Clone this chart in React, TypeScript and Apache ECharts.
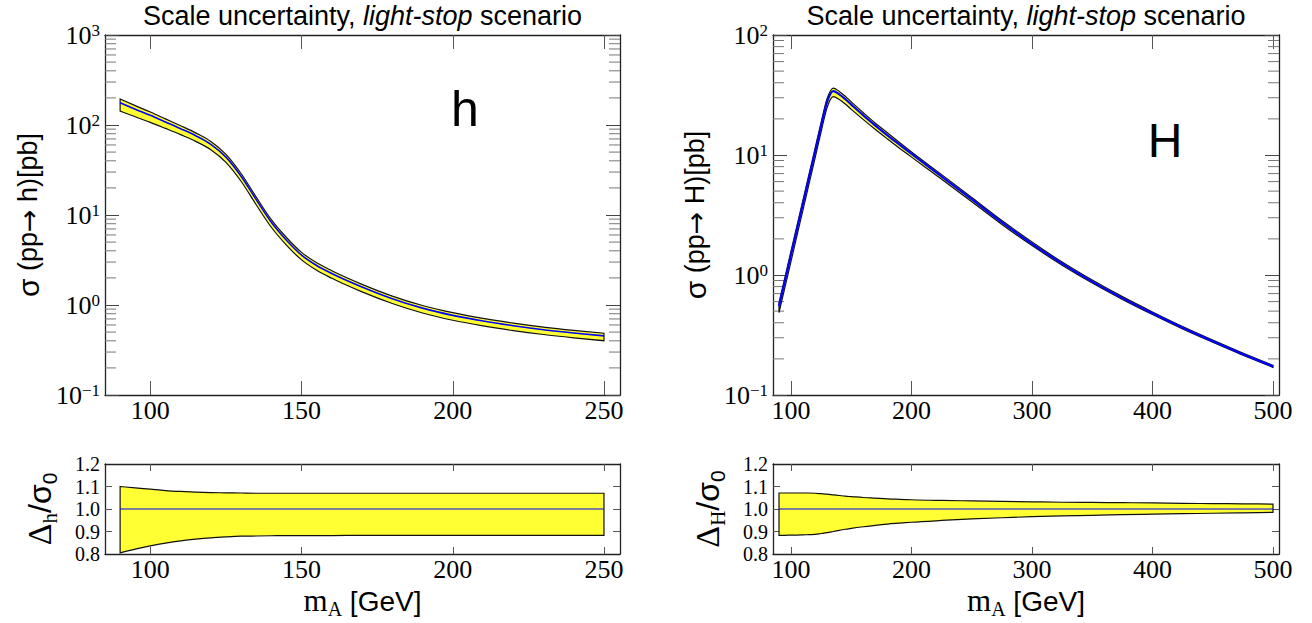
import React, { useEffect, useRef } from "react";
import * as echarts from "echarts";

// ---------- data ----------
const hMass = [90, 95, 100, 105, 110, 115, 120, 125, 130, 135, 140, 145, 150, 155, 160, 170, 180, 190, 200, 210, 220, 230, 240, 250];
const hCentral = [177, 150, 128, 108, 91, 76, 61, 44, 27, 14.8, 8.3, 5.25, 3.59, 2.75, 2.24, 1.585, 1.175, 0.923, 0.767, 0.664, 0.589, 0.532, 0.489, 0.454];
const hUpper = [194.7, 164.1, 139.3, 116.9, 98.1, 81.7, 65.5, 47.2, 28.9, 15.84, 8.88, 5.62, 3.84, 2.94, 2.4, 1.696, 1.257, 0.988, 0.821, 0.71, 0.63, 0.569, 0.523, 0.486];
const hLower = [142.5, 123.3, 107.0, 91.6, 78.1, 65.8, 53.2, 38.5, 23.7, 13.0, 7.31, 4.63, 3.17, 2.43, 1.98, 1.4, 1.04, 0.815, 0.677, 0.586, 0.52, 0.47, 0.432, 0.401];
const hRatioUp = [1.1, 1.094, 1.088, 1.082, 1.078, 1.075, 1.073, 1.072, 1.071, 1.07, 1.07, 1.07, 1.07, 1.07, 1.07, 1.07, 1.07, 1.07, 1.07, 1.07, 1.07, 1.07, 1.07, 1.07];
const hRatioLow = [0.805, 0.822, 0.836, 0.848, 0.858, 0.866, 0.872, 0.876, 0.879, 0.88, 0.881, 0.882, 0.882, 0.882, 0.882, 0.883, 0.883, 0.883, 0.883, 0.883, 0.883, 0.883, 0.883, 0.883];

const HMass = [90, 95, 100, 105, 110, 115, 120, 125, 130, 135, 140, 145, 150, 160, 170, 180, 190, 200, 225, 250, 275, 300, 325, 350, 375, 400, 425, 450, 475, 500];
const HCentral = [0.55, 0.9, 1.48, 2.43, 3.98, 6.53, 10.7, 17.6, 27.9, 34.0, 32.0, 29.2, 26.3, 21.4, 17.6, 14.6, 12.2, 10.2, 6.61, 4.27, 2.75, 1.82, 1.245, 0.881, 0.642, 0.479, 0.363, 0.28, 0.219, 0.173];
const HUpper = [0.589, 0.964, 1.585, 2.6, 4.26, 6.99, 11.45, 18.8, 29.7, 36.1, 33.9, 30.9, 27.7, 22.5, 18.4, 15.3, 12.7, 10.6, 6.86, 4.42, 2.84, 1.88, 1.282, 0.907, 0.66, 0.492, 0.372, 0.287, 0.224, 0.177];
const HLower = [0.486, 0.795, 1.308, 2.15, 3.52, 5.79, 9.49, 15.7, 25.0, 30.6, 29.0, 26.6, 24.0, 19.7, 16.3, 13.6, 11.4, 9.6, 6.27, 4.08, 2.64, 1.758, 1.206, 0.856, 0.626, 0.468, 0.355, 0.275, 0.215, 0.17];
const HRatioUp = [1.071, 1.071, 1.071, 1.071, 1.071, 1.071, 1.07, 1.068, 1.066, 1.063, 1.06, 1.057, 1.055, 1.051, 1.048, 1.045, 1.043, 1.041, 1.038, 1.036, 1.034, 1.032, 1.03, 1.029, 1.028, 1.027, 1.025, 1.024, 1.023, 1.022];
const HRatioLow = [0.883, 0.883, 0.884, 0.884, 0.885, 0.886, 0.887, 0.891, 0.895, 0.9, 0.905, 0.91, 0.914, 0.921, 0.927, 0.933, 0.937, 0.941, 0.949, 0.956, 0.961, 0.966, 0.969, 0.972, 0.975, 0.977, 0.979, 0.981, 0.983, 0.985];

const hTicks = [100, 150, 200, 250];
const HTicks = [100, 200, 300, 400, 500];
const ratioTicks = [0.9, 1.0, 1.1];
const ratioLabels = [0.8, 0.9, 1.0, 1.1, 1.2];

// ---------- styling ----------
const SERIF = '"Liberation Serif","DejaVu Serif",serif';
const SANS = '"Liberation Sans","DejaVu Sans",sans-serif';
const YELLOW = "#ffff33";
const BLUE = "#0000ff";
const FRAME = { color: "#222", width: 1.3 };
const TICK_FONT = 26;

type Pt = number[];

// smooth cubic through the points (tangent = 3-point derivative, clamped to stay monotone)
function smoothSegs(p: Pt[]) {
  const n = p.length;
  const h: number[] = [];
  const s: number[] = [];
  for (let i = 0; i < n - 1; i++) {
    h[i] = p[i + 1][0] - p[i][0];
    s[i] = (p[i + 1][1] - p[i][1]) / h[i];
  }
  const t: number[] = new Array(n).fill(0);
  for (let i = 1; i < n - 1; i++) {
    if (s[i - 1] * s[i] <= 0) { t[i] = 0; continue; }
    const pp = (s[i - 1] * h[i] + s[i] * h[i - 1]) / (h[i - 1] + h[i]);
    const lim = 3 * Math.min(Math.abs(s[i - 1]), Math.abs(s[i]));
    t[i] = Math.sign(pp) * Math.min(Math.abs(pp), lim);
  }
  t[0] = (3 * s[0] - t[1]) / 2;
  t[n - 1] = (3 * s[n - 2] - t[n - 2]) / 2;
  const segs: Pt[][] = [];
  for (let i = 0; i < n - 1; i++) {
    const dx = h[i] / 3;
    segs.push([
      [p[i][0] + dx, p[i][1] + dx * t[i]],
      [p[i + 1][0] - dx, p[i + 1][1] - dx * t[i + 1]],
      p[i],
      p[i + 1],
    ]);
  }
  return segs;
}
const f = (v: number) => v.toFixed(2);
function linePath(p: Pt[]) {
  let d = `M${f(p[0][0])} ${f(p[0][1])}`;
  for (const [c1, c2, , e] of smoothSegs(p)) d += ` C${f(c1[0])} ${f(c1[1])} ${f(c2[0])} ${f(c2[1])} ${f(e[0])} ${f(e[1])}`;
  return d;
}
function bandPath(up: Pt[], lo: Pt[]) {
  let d = linePath(up);
  const ls = smoothSegs(lo);
  const last = lo[lo.length - 1];
  d += ` L${f(last[0])} ${f(last[1])}`;
  for (let i = ls.length - 1; i >= 0; i--) {
    const [c1, c2, s] = ls[i];
    d += ` C${f(c2[0])} ${f(c2[1])} ${f(c1[0])} ${f(c1[1])} ${f(s[0])} ${f(s[1])}`;
  }
  return d + " Z";
}

function bandSeries(idx: number, xs: number[], up: number[], lo: number[], mid: number[], midColor: string, midWidth: number) {
  return {
    type: "custom",
    coordinateSystem: "cartesian2d",
    xAxisIndex: idx,
    yAxisIndex: idx,
    silent: true,
    clip: false,
    data: [[xs[0], mid[0]]],
    encode: { x: 0, y: 1 },
    renderItem: (_p: any, api: any) => {
      const U = xs.map((x, i) => api.coord([x, up[i]]));
      const L = xs.map((x, i) => api.coord([x, lo[i]]));
      const M = xs.map((x, i) => api.coord([x, mid[i]]));
      return {
        type: "group",
        children: [
          { type: "path", shape: { pathData: bandPath(U, L) }, style: { fill: YELLOW, stroke: "#111", lineWidth: 1.2 } },
          { type: "path", shape: { pathData: linePath(M) }, style: { fill: "none", stroke: midColor, lineWidth: midWidth } },
        ],
      };
    },
  };
}

function minorValues(lo: number, hi: number) {
  const out: number[] = [];
  for (let e = lo; e < hi; e++) for (let k = 2; k <= 9; k++) out.push(k * Math.pow(10, e));
  return out;
}
function minorTickSeries(idx: number, xmin: number, xmax: number, vals: number[]) {
  return {
    type: "custom",
    coordinateSystem: "cartesian2d",
    xAxisIndex: idx,
    yAxisIndex: idx,
    silent: true,
    clip: false,
    data: vals.map((v) => [xmin, v]),
    encode: { x: 0, y: 1 },
    renderItem: (_p: any, api: any) => {
      const v = api.value(1);
      const a = api.coord([xmin, v]);
      const b = api.coord([xmax, v]);
      const st = { stroke: "#777", lineWidth: 1 };
      return {
        type: "group",
        children: [
          { type: "line", shape: { x1: a[0], y1: a[1], x2: a[0] + 11, y2: a[1] }, style: st },
          { type: "line", shape: { x1: b[0] - 11, y1: b[1], x2: b[0], y2: b[1] }, style: st },
        ],
      };
    },
  };
}
// ratio-axis tick labels placed with the axis scale (crowded like the reference)
function ratioLabelSeries(idx: number, xmin: number) {
  return {
    type: "custom",
    coordinateSystem: "cartesian2d",
    xAxisIndex: idx,
    yAxisIndex: idx,
    silent: true,
    clip: false,
    data: ratioLabels.map((v) => [xmin, v]),
    encode: { x: 0, y: 1 },
    renderItem: (_p: any, api: any) => {
      const v = api.value(1);
      const a = api.coord([xmin, v]);
      return {
        type: "text",
        x: a[0] - 5,
        y: a[1],
        style: { text: v.toFixed(1), fontFamily: SERIF, fontSize: 20, lineHeight: 20, fill: "#000", align: "right", verticalAlign: "middle" },
      };
    },
  };
}

function xAxisDef(grid: number, min: number, max: number, ticks: number[], position: string, labels: boolean, tickLen: number) {
  return {
    type: "value",
    gridIndex: grid,
    min,
    max,
    position,
    axisLine: { show: true, onZero: false, lineStyle: FRAME },
    axisTick: { show: true, inside: true, length: tickLen, customValues: ticks, lineStyle: { color: "#555", width: 1 } },
    axisLabel: { show: labels, customValues: ticks, interval: 0, margin: 2, fontFamily: SERIF, fontSize: TICK_FONT, color: "#000" },
    splitLine: { show: false },
  };
}
function logYAxis(grid: number, min: number, max: number, position: string, labels: boolean) {
  return {
    type: "log",
    logBase: 10,
    gridIndex: grid,
    min,
    max,
    position,
    axisLine: { show: true, onZero: false, lineStyle: FRAME },
    axisTick: { show: true, inside: true, length: 14, lineStyle: { color: "#444", width: 1 } },
    axisLabel: {
      show: labels,
      interval: 0,
      margin: 5,
      showMinLabel: true,
      showMaxLabel: true,
      formatter: (v: number) => {
        const e = Math.round(Math.log10(v));
        return `{m|10}{e|${e < 0 ? "\u2212" + -e : e}}`;
      },
      rich: {
        m: { fontFamily: SERIF, fontSize: TICK_FONT, lineHeight: 26, color: "#000" },
        e: { fontFamily: SERIF, fontSize: 17, lineHeight: 12, verticalAlign: "top", color: "#000" },
      },
    },
    splitLine: { show: false },
  };
}
function ratioYAxis(grid: number, position: string) {
  return {
    type: "value",
    gridIndex: grid,
    min: 0.8,
    max: 1.2,
    interval: 0.1,
    position,
    axisLine: { show: true, onZero: false, lineStyle: FRAME },
    axisTick: { show: true, inside: true, length: 7, customValues: ratioTicks, lineStyle: { color: "#555", width: 1 } },
    axisLabel: { show: false },
    splitLine: { show: false },
  };
}

// ---------- text helpers (hand-set sub/superscripts) ----------
let measureCtx: CanvasRenderingContext2D | null = null;
function textWidth(t: string, size: number, family: string) {
  if (!measureCtx) measureCtx = document.createElement("canvas").getContext("2d");
  if (!measureCtx) return t.length * size * 0.5;
  measureCtx.font = `${size}px ${family}`;
  return measureCtx.measureText(t).width;
}
type Part = { t: string; size: number; family: string; dy: number };
// lays parts on a common baseline (local y = 0), centred horizontally on local x = 0
function rowChildren(parts: Part[]) {
  const widths = parts.map((p) => textWidth(p.t, p.size, p.family));
  const total = widths.reduce((a, b) => a + b, 0);
  let x = -total / 2;
  return parts.map((p, i) => {
    const el = {
      type: "text",
      x,
      y: p.dy - 0.34 * p.size,
      style: { text: p.t, fontFamily: p.family, fontSize: p.size, fill: "#000", align: "left", verticalAlign: "middle" },
    };
    x += widths[i];
    return el;
  });
}

function titleText(cx: number) {
  return {
    type: "text",
    x: cx,
    y: 16,
    style: {
      text: "Scale uncertainty, {i|light-stop} scenario",
      fontFamily: SANS,
      fontSize: 27,
      fill: "#000",
      align: "center",
      verticalAlign: "middle",
      rich: { i: { fontFamily: SANS, fontSize: 27, fontStyle: "italic", fill: "#000" } },
    },
  };
}
function yLabel(cx: number, cy: number, sym: string) {
  return {
    type: "text",
    x: cx,
    y: cy,
    rotation: Math.PI / 2,
    style: {
      text: `{s|\u03c3} {t|(pp}{a|\u2192}{t| ${sym})[pb]}`,
      fontFamily: SANS,
      fontSize: 27,
      fill: "#000",
      align: "center",
      verticalAlign: "middle",
      rich: {
        s: { fontFamily: SANS, fontSize: 30, lineHeight: 30, fill: "#000" },
        t: { fontFamily: SANS, fontSize: 27, lineHeight: 30, fill: "#000" },
        a: { fontFamily: '"DejaVu Sans",sans-serif', fontSize: 27, lineHeight: 30, fill: "#000" },
      },
    },
  };
}
function ratioLabel(baseX: number, cy: number, sub: string) {
  return {
    type: "group",
    x: baseX,
    y: cy,
    rotation: Math.PI / 2,
    children: rowChildren([
      { t: "\u0394", size: 34, family: SERIF, dy: 0 },
      { t: sub, size: 21, family: SERIF, dy: 6 },
      { t: "/\u03c3", size: 32, family: SANS, dy: 0 },
      { t: "0", size: 21, family: SANS, dy: 6 },
    ]),
  };
}
function xLabel(cx: number, baseY: number) {
  return {
    type: "group",
    x: cx,
    y: baseY,
    children: rowChildren([
      { t: "m", size: 31, family: SERIF, dy: 0 },
      { t: "A", size: 20, family: SERIF, dy: 5 },
      { t: " [GeV]", size: 28, family: SANS, dy: 0 },
    ]),
  };
}

export default function App() {
  const ref = useRef<HTMLDivElement>(null);
  useEffect(() => {
    const chart = echarts.init(ref.current as HTMLDivElement, null, { renderer: "svg", width: 1312, height: 623 });
    const hMin = 85, hMax = 255.3, HMin = 85, HMax = 505;
    const option: any = {
      animation: false,
      backgroundColor: "#fff",
      grid: [
        { left: 105, top: 35, width: 515, height: 360 },
        { left: 773, top: 35, width: 506, height: 360 },
        { left: 105, top: 464, width: 515, height: 90 },
        { left: 773, top: 464, width: 506, height: 90 },
      ],
      xAxis: [
        xAxisDef(0, hMin, hMax, hTicks, "bottom", true, 14),
        xAxisDef(0, hMin, hMax, hTicks, "top", false, 14),
        xAxisDef(1, HMin, HMax, HTicks, "bottom", true, 14),
        xAxisDef(1, HMin, HMax, HTicks, "top", false, 14),
        xAxisDef(2, hMin, hMax, hTicks, "bottom", true, 7),
        xAxisDef(2, hMin, hMax, hTicks, "top", false, 7),
        xAxisDef(3, HMin, HMax, HTicks, "bottom", true, 7),
        xAxisDef(3, HMin, HMax, HTicks, "top", false, 7),
      ],
      yAxis: [
        logYAxis(0, 0.1, 1000, "left", true),
        logYAxis(0, 0.1, 1000, "right", false),
        logYAxis(1, 0.1, 100, "left", true),
        logYAxis(1, 0.1, 100, "right", false),
        ratioYAxis(2, "left"),
        ratioYAxis(2, "right"),
        ratioYAxis(3, "left"),
        ratioYAxis(3, "right"),
      ],
      series: [
        minorTickSeries(0, hMin, hMax, minorValues(-1, 3)),
        minorTickSeries(2, HMin, HMax, minorValues(-1, 2)),
        bandSeries(0, hMass, hUpper, hLower, hCentral, BLUE, 1.6),
        bandSeries(2, HMass, HUpper, HLower, HCentral, BLUE, 2.2),
        bandSeries(4, hMass, hRatioUp, hRatioLow, hMass.map(() => 1), BLUE, 1.2),
        bandSeries(6, HMass, HRatioUp, HRatioLow, HMass.map(() => 1), BLUE, 1.2),
        ratioLabelSeries(4, hMin),
        ratioLabelSeries(6, HMin),
      ],
      graphic: [
        titleText(362.5),
        titleText(1026),
        { type: "text", x: 465, y: 109, style: { text: "h", fontFamily: SANS, fontSize: 50, fill: "#000", align: "center", verticalAlign: "middle" } },
        { type: "text", x: 1165, y: 140, style: { text: "H", fontFamily: SANS, fontSize: 48, fill: "#000", align: "center", verticalAlign: "middle" } },
        yLabel(28, 215, "h"),
        yLabel(695, 215, "H"),
        ratioLabel(51, 509, "h"),
        ratioLabel(719, 509, "H"),
        xLabel(362.5, 611),
        xLabel(1026, 611),
      ],
    };
    chart.setOption(option);
    return () => chart.dispose();
  }, []);
  return <div ref={ref} style={{ position: "fixed", left: 0, top: 0, width: 1312, height: 623, background: "#fff" }} />;
}
